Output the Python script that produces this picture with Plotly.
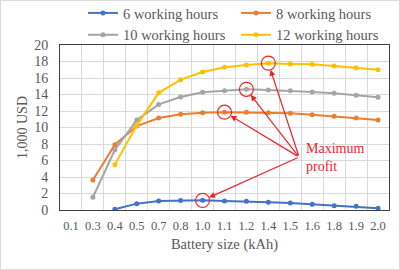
import plotly.graph_objects as go

battery_sizes = ["0.1", "0.3", "0.4", "0.5", "0.7", "0.8", "1.0", "1.1", "1.2", "1.4", "1.5", "1.6", "1.8", "1.9", "2.0"]
hours_6 = [None, None, 0.08, 0.77, 1.09, 1.15, 1.17, 1.10, 1.05, 0.93, 0.85, 0.69, 0.53, 0.44, 0.20]
hours_8 = [None, 3.64, 7.92, 10.18, 11.15, 11.60, 11.80, 11.86, 11.84, 11.80, 11.72, 11.56, 11.35, 11.15, 10.90]
hours_10 = [None, 1.54, 7.27, 10.90, 12.80, 13.70, 14.26, 14.46, 14.63, 14.55, 14.46, 14.30, 14.14, 13.90, 13.66]
hours_12 = [None, None, 5.50, 10.26, 14.20, 15.80, 16.73, 17.30, 17.58, 17.80, 17.70, 17.66, 17.45, 17.25, 17.00]
series_names = ["6 working hours", "8 working hours", "10 working hours", "12 working hours"]
series_colors = ["#4472C4", "#ED7D31", "#A5A5A5", "#FFC000"]
y_ticks = [0, 2, 4, 6, 8, 10, 12, 14, 16, 18, 20]

FONT = "Liberation Serif"
TXT = "#595959"
RED = "#E8262A"

fig = go.Figure()
all_series = [hours_6, hours_8, hours_10, hours_12]
for name, vals, col in zip(series_names, all_series, series_colors):
    fig.add_trace(go.Scatter(
        x=battery_sizes, y=vals, name=name, mode="lines+markers",
        line=dict(color=col, width=2), marker=dict(color=col, size=5),
        connectgaps=False,
    ))

# circles + arrows at maxima
tail_x, tail_y = 10.4, 6.42
for vals in all_series:
    clean = [v if v is not None else -1 for v in vals]
    i = clean.index(max(clean))
    fig.add_shape(type="circle", xref="x", yref="y",
                  xsizemode="pixel", ysizemode="pixel",
                  xanchor=i, yanchor=vals[i],
                  x0=-7, x1=7, y0=-7, y1=7,
                  line=dict(color=RED, width=1.2))
    fig.add_annotation(x=i, y=vals[i], xref="x", yref="y",
                       ax=tail_x, ay=tail_y, axref="x", ayref="y",
                       text="", showarrow=True, arrowhead=2, arrowsize=1,
                       arrowwidth=1.2, arrowcolor=RED, standoff=7)

fig.add_annotation(x=10.62, y=tail_y, xref="x", yref="y", text="Maximum<br>profit",
                   showarrow=False, xanchor="left", yanchor="middle", align="left",
                   font=dict(family=FONT, size=14, color=RED))

# outer chart border
fig.add_shape(type="rect", xref="paper", yref="paper",
              x0=-59.5/329, x1=1 + 10.5/329, y0=-59.5/165, y1=1 + 44.5/165,
              line=dict(color="#D9D9D9", width=1), layer="below")

fig.update_layout(
    width=400, height=270,
    margin=dict(l=60, r=11, t=45, b=60, autoexpand=False),
    paper_bgcolor="white", plot_bgcolor="white",
    font=dict(family=FONT, color=TXT),
    showlegend=True,
    legend=dict(orientation="h", x=(83 - 60) / 329, xanchor="left",
                y=1 + 48 / 165, yanchor="top",
                entrywidth=108, entrywidthmode="pixels",
                font=dict(family=FONT, size=14.5, color=TXT),
                bgcolor="rgba(0,0,0,0)", tracegroupgap=0),
    xaxis=dict(type="category", categoryorder="array", categoryarray=battery_sizes,
               tickson="boundaries", showgrid=True, gridcolor="#D9D9D9", gridwidth=1,
               showline=True, linecolor="#404040", linewidth=1, mirror=True,
               ticks="", tickangle=0, ticklabelstandoff=4,
               tickfont=dict(family=FONT, size=12.5, color=TXT),
               title=dict(text="Battery size (kAh)", font=dict(family=FONT, size=14.5, color=TXT), standoff=6),
               range=[-0.5, len(battery_sizes) - 0.5], fixedrange=True),
    yaxis=dict(range=[0, 20], tickvals=y_ticks, showgrid=True, gridcolor="#D9D9D9", gridwidth=1,
               showline=True, linecolor="#404040", linewidth=1, mirror=True,
               zeroline=False, ticks="", ticklabelstandoff=8,
               tickfont=dict(family=FONT, size=14, color=TXT),
               title=dict(text="1,000 USD", font=dict(family=FONT, size=14, color=TXT), standoff=3),
               fixedrange=True),
)

fig.write_html("out.html")
